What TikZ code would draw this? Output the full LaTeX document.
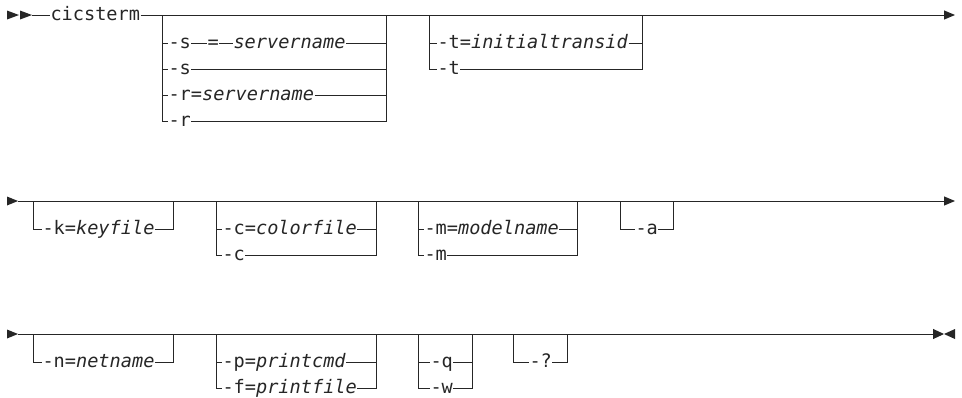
\documentclass[tikz,border=0pt]{standalone}
\usepackage{fontspec}
\setmonofont{DejaVu Sans Mono}
\usetikzlibrary{arrows.meta}

\begin{document}
\ttfamily\fontsize{18.6}{20}\selectfont
\begin{tikzpicture}[x=1pt, y=-1pt, line width=1pt, color=black!85, >={Triangle[length=11pt,width=9pt]},
  every option/.style={anchor=mid west, inner sep=0pt, font=\ttfamily\fontsize{18.6}{20}\selectfont}]

\useasboundingbox (0,0) rectangle (962,397);

% first line
\fill (7,10.5) -- (19,15) -- (7,19.5) -- cycle;
\fill (20,10.5) -- (32,15) -- (20,19.5) -- cycle;
\coordinate (r1-in) at (32,15);
\coordinate (r1-end) at (955,15);
\node [every option] (cics) at (50,15) {cicsterm};
\draw (r1-in) -- (cics.mid west);
\draw [->] (cics.mid east) -- (r1-end);

\coordinate (s-l) at (162,15);
\coordinate (s-r) at (386,15);
\node [every option] (s-1) at (168,43) {-s};
\node [every option] (s-eq) at (207,43) {=};
\node [every option] (s-name) at (233,43) {\textit{servername}};
\foreach \t [count=\i from 2] in {-s, -r=\textit{servername}, -r}
  \node [every option] (s-\i) at (168,{43+(\i-1)*26}) {\t};

\coordinate (t-l) at (429,15);
\coordinate (t-r) at (642,15);
\foreach \t [count=\i] in {-t=\textit{initialtransid}, -t}
  \node [every option] (t-\i) at (437,{43+(\i-1)*26}) {\t};

% second line
\fill (7,196.5) -- (18,201) -- (7,205.5) -- cycle;
\coordinate (r2-in) at (18,201);
\coordinate (r2-end) at (955,201);
\draw [->] (r2-in) -- (r2-end);

\foreach \g/\l/\r in {k/33/173, c/216/376, m/418/577, a/620/673} {
  \coordinate (\g-l) at (\l,201);
  \coordinate (\g-r) at (\r,201);
}
\node [every option] (k-1) at (42,229) {-k=\textit{keyfile}};
\foreach \t [count=\i] in {-c=\textit{colorfile}, -c}
  \node [every option] (c-\i) at (222,{229+(\i-1)*26}) {\t};
\foreach \t [count=\i] in {-m=\textit{modelname}, -m}
  \node [every option] (m-\i) at (424,{229+(\i-1)*26}) {\t};
\node [every option] (a-1) at (635,229) {-a};

% third line
\fill (7,329.5) -- (18,334) -- (7,338.5) -- cycle;
\fill (955,329) -- (944,334) -- (955,339) -- cycle;
\coordinate (r3-in) at (18,334);
\coordinate (r3-end) at (944,334);
\draw [-{Triangle[length=11pt,width=10pt]}] (r3-in) -- (r3-end);

\foreach \g/\l/\r in {n/33/173, p/216/376, q/418/472, x/513/567} {
  \coordinate (\g-l) at (\l,334);
  \coordinate (\g-r) at (\r,334);
}
\node [every option] (n-1) at (42,362) {-n=\textit{netname}};
\foreach \t [count=\i] in {-p=\textit{printcmd}, -f=\textit{printfile}}
  \node [every option] (p-\i) at (222,{362+(\i-1)*26}) {\t};
\foreach \t [count=\i] in {-q, -w}
  \node [every option] (q-\i) at (430,{362+(\i-1)*26}) {\t};
\node [every option] (x-1) at (529,362) {-?};

% branches
\draw (s-l) |- (s-1.mid west) (s-1.mid east) -- (s-eq.mid west)
  (s-eq.mid east) -- (s-name.mid west) (s-name.mid east) -| (s-r);
\foreach \i in {2,...,4}
  \draw (s-l) |- (s-\i.mid west) (s-\i.mid east) -| (s-r);

\foreach \g/\n in {t/2, k/1, c/2, m/2, a/1, n/1, p/2, q/2, x/1}
  \foreach \i in {1,...,\n}
    \draw (\g-l) |- (\g-\i.mid west) (\g-\i.mid east) -| (\g-r);

\end{tikzpicture}
\end{document}
